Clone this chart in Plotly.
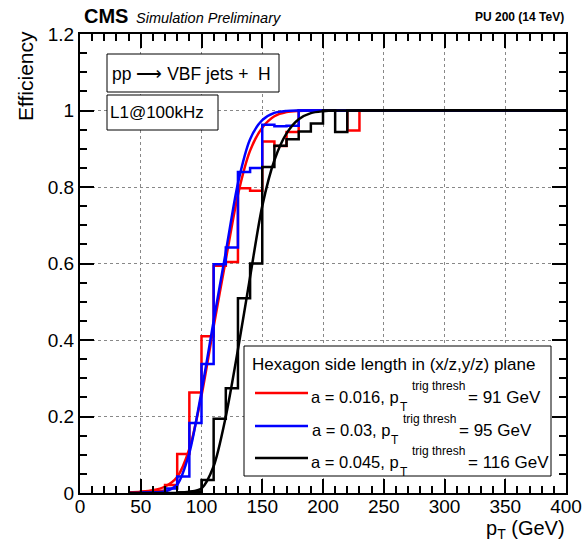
import plotly.graph_objects as go

# ---------------- data ----------------
bin_edges = [40, 50, 60, 70, 80, 90, 100, 110, 120, 130, 140, 150, 160, 170, 180, 190,
             200, 210, 220, 230, 240, 250, 260, 270, 280, 290, 300, 310, 320, 330, 340,
             350, 360, 370, 380, 390, 400]
red_eff = [0.001, 0.003, 0.006, 0.021, 0.102, 0.263, 0.41, 0.594, 0.604, 0.797, 0.79,
           0.919, 0.907, 0.944, 1, 1, 1, 1, 0.948, 1, 1, 1, 1, 1, 1, 1, 1, 1, 1, 1, 1,
           1, 1, 1, 1, 1]
blue_eff = [0.0, 0.001, 0.002, 0.012, 0.043, 0.183, 0.337, 0.598, 0.642, 0.839, 0.85,
            0.963, 0.959, 0.96, 1, 1, 1, 1, 1, 1, 1, 1, 1, 1, 1, 1, 1, 1, 1, 1, 1,
            1, 1, 1, 1, 1]
black_eff = [0.0, 0.0, 0.0, 0.0, 0.001, 0.003, 0.034, 0.194, 0.274, 0.509, 0.6,
             0.852, 0.908, 0.925, 0.945, 0.966, 1, 0.944, 1, 1, 1, 1, 1, 1, 1, 1, 1,
             1, 1, 1, 1, 1, 1, 1, 1, 1]

fit_x = [40, 50, 60, 70, 80, 90, 100, 110, 120, 130, 140, 150, 160, 170, 180, 190, 200, 210, 400]
red_fit = [0.001, 0.003, 0.007, 0.017, 0.042, 0.115, 0.255, 0.435, 0.61, 0.78, 0.895,
           0.955, 0.985, 0.996, 0.999, 1.0, 1.0, 1.0, 1.0]
blue_fit = [None, 0.0005, 0.001, 0.004, 0.022, 0.105, 0.265, 0.45, 0.63, 0.81, 0.925,
            0.975, 0.994, 0.999, 1.0, 1.0, 1.0, 1.0, 1.0]
black_fit = [None, None, None, None, 0.001, 0.003, 0.012, 0.07, 0.2, 0.375, 0.565,
             0.75, 0.87, 0.94, 0.977, 0.993, 0.998, 1.0, 1.0]

x_ticks = [0, 50, 100, 150, 200, 250, 300, 350, 400]
y_ticks = [0, 0.2, 0.4, 0.6, 0.8, 1.0, 1.2]

legend_title = "Hexagon side length in (x/z,y/z) plane"
legend_a = ["a = 0.016, p", "a = 0.03, p", "a = 0.045, p"]
legend_thr = ["= 91 GeV", "= 95 GeV", "= 116 GeV"]
colors = ["#ff0000", "#0000ff", "#000000"]

FONT = "Liberation Sans, Arial, Helvetica, sans-serif"

# ---------------- layout geometry ----------------
W, H = 583, 541
L, R, T, B = 80, 17, 34, 48
PW, PH = W - L - R, H - T - B


def px(x):
    return (x - L) / PW


def py(y):
    return (H - B - y) / PH


fig = go.Figure()

hists = [red_eff, blue_eff, black_eff]
fits = [red_fit, blue_fit, black_fit]
for vals, fv, col in zip(hists, fits, colors):
    fig.add_trace(go.Scatter(
        x=bin_edges, y=vals + [vals[-1]], mode="lines",
        line=dict(color=col, width=2.5, shape="hv"), showlegend=False,
        hoverinfo="skip"))
    fig.add_trace(go.Scatter(
        x=fit_x, y=fv, mode="lines",
        line=dict(color=col, width=2.5, shape="spline", smoothing=0.8),
        showlegend=False, hoverinfo="skip", connectgaps=False))

axis_common = dict(
    showline=True, linecolor="black", linewidth=2, mirror="ticks",
    ticks="inside", ticklen=14, tickwidth=2, tickcolor="black",
    showgrid=True, gridcolor="#888888", griddash="dot", gridwidth=1,
    zeroline=False, automargin=False,
    tickfont=dict(family=FONT, size=19, color="black"),
)

fig.update_xaxes(range=[0, 400], tickvals=x_ticks, ticktext=[str(v) for v in x_ticks],
                 ticklabelstandoff=-5,
                 minor=dict(dtick=10, ticks="inside", ticklen=7, tickwidth=2,
                            tickcolor="black", showgrid=False),
                 **axis_common)
fig.update_yaxes(range=[0, 1.2], tickvals=y_ticks,
                 ticktext=["0", "0.2", "0.4", "0.6", "0.8", "1", "1.2"],
                 minor=dict(dtick=0.05, ticks="inside", ticklen=7, tickwidth=2,
                            tickcolor="black", showgrid=False),
                 **axis_common)

shapes = []
annotations = []


def box(x0, y0, x1, y1):
    shapes.append(dict(type="rect", xref="paper", yref="paper",
                       x0=px(x0), x1=px(x1), y0=py(y1), y1=py(y0),
                       line=dict(color="black", width=1), fillcolor="white",
                       layer="above"))


def text(t, x, y, size, xanchor="left", yanchor="middle", bold=False,
         italic=False, angle=0):
    if bold:
        t = "<b>" + t + "</b>"
    if italic:
        t = "<i>" + t + "</i>"
    annotations.append(dict(text=t, xref="paper", yref="paper", x=px(x), y=py(y),
                            xanchor=xanchor, yanchor=yanchor, showarrow=False,
                            textangle=angle,
                            font=dict(family=FONT, size=size, color="black")))


# header
text("CMS", 82, 16, 20, bold=True)
text("Simulation Preliminary", 134, 18, 14.5, italic=True)
text("PU 200 (14 TeV)", 566, 17, 12, xanchor="right", bold=True)

# axis titles
text("Efficiency", 26, 29, 21, xanchor="center", yanchor="top", angle=-90)
text("p<sub>T</sub> (GeV)", 567, 529, 20, xanchor="right")

# info boxes
box(107, 54, 279, 92)
text("pp \u27f6 VBF jets +  H", 110, 74, 17.5)
box(107, 95, 218, 130)
text("L1@100kHz", 108, 113, 17)

# legend
box(244, 346, 551, 476)
text(legend_title, 250, 364, 17)
rows_y = [393, 426, 458]
p_right = [401, 392, 401]
sub_left = [398, 389, 398]
sup_left = [410, 401, 410]
thr_left = [466, 457, 466]
for i in range(3):
    yy = rows_y[i]
    shapes.append(dict(type="line", xref="paper", yref="paper",
                       x0=px(255), x1=px(308), y0=py(yy), y1=py(yy),
                       line=dict(color=colors[i], width=2.5), layer="above"))
    text(legend_a[i], p_right[i], yy + 4, 16.5, xanchor="right")
    text("T", sub_left[i], yy + 14, 12)
    text("trig thresh", sup_left[i], yy - 7, 12)
    text(legend_thr[i], thr_left[i], yy + 4, 17)

fig.update_layout(
    width=W, height=H,
    margin=dict(l=L, r=R, t=T, b=B, pad=0, autoexpand=False),
    paper_bgcolor="white", plot_bgcolor="white",
    shapes=shapes, annotations=annotations,
    font=dict(family=FONT, color="black"),
    showlegend=False,
)

fig.write_html("out.html")
